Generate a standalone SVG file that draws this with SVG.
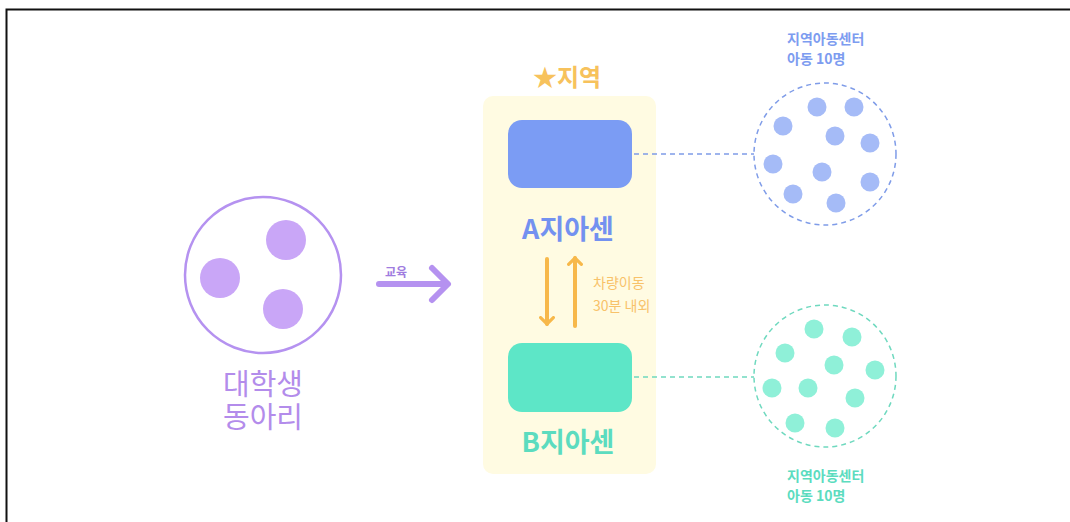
<svg xmlns="http://www.w3.org/2000/svg" width="1070" height="522" viewBox="0 0 1070 522">
<style>
.ko{font-family:"Noto Sans CJK KR","Noto Sans",sans-serif}
.b{font-weight:700}
.pdot{fill:#c9a6f7}
.bdot{fill:#a5bbf7}
.gdot{fill:#8ff0d8}
.dash{fill:none;stroke-width:1.5;stroke-dasharray:5 4}
</style>
<defs>
<marker id="ah" viewBox="0 0 10 10" refX="5" refY="5" markerWidth="4" markerHeight="4" orient="auto">
<path d="M1,1 L5,5 L1,9" fill="none" stroke="#f7b84a" stroke-width="2" stroke-linecap="round"/>
</marker>
</defs>
<rect width="1070" height="522" fill="#fff"/>
<path d="M6.5,522 V9.5 H1070" fill="none" stroke="#111" stroke-width="2"/>

<g id="club">
<circle cx="263" cy="275" r="78" fill="#fff" stroke="#b592f0" stroke-width="2.5"/>
<circle class="pdot" cx="286" cy="240" r="20"/>
<circle class="pdot" cx="220" cy="278" r="20"/>
<circle class="pdot" cx="283" cy="309" r="20"/>
<text class="ko" x="263" y="395" text-anchor="middle" font-size="29" fill="#b38ceb">대학생</text>
<text class="ko" x="263" y="428" text-anchor="middle" font-size="29" fill="#b38ceb">동아리</text>
</g>

<g id="region">
<rect x="483" y="96" width="173" height="378" rx="10" fill="#fffbe2"/>
<text class="ko b" x="567" y="86" text-anchor="middle" font-size="24" fill="#f7c25c">★지역</text>
</g>

<g id="centerA">
<rect x="508" y="120" width="124" height="68" rx="14" fill="#7b9cf4"/>
<text class="ko b" x="568" y="239" text-anchor="middle" font-size="27" fill="#7391f0">A지아센</text>
</g>

<g id="centerB">
<rect x="508" y="343" width="124" height="69" rx="14" fill="#5de6c7"/>
<text class="ko b" x="568" y="452" text-anchor="middle" font-size="27" fill="#5cdcbf">B지아센</text>
</g>

<g id="groupA">
<circle class="dash" cx="825" cy="154" r="71" stroke="#7f9ce8"/>
<circle class="bdot" cx="817" cy="107" r="9.5"/>
<circle class="bdot" cx="854" cy="107" r="9.5"/>
<circle class="bdot" cx="783" cy="126" r="9.5"/>
<circle class="bdot" cx="835" cy="136" r="9.5"/>
<circle class="bdot" cx="870" cy="143" r="9.5"/>
<circle class="bdot" cx="773" cy="164" r="9.5"/>
<circle class="bdot" cx="822" cy="172" r="9.5"/>
<circle class="bdot" cx="870" cy="182" r="9.5"/>
<circle class="bdot" cx="793" cy="194" r="9.5"/>
<circle class="bdot" cx="836" cy="203" r="9.5"/>
<text class="ko b" x="787" y="44" font-size="14" fill="#7d9cf0">지역아동센터</text>
<text class="ko b" x="787" y="64" font-size="14" fill="#7d9cf0">아동 10명</text>
</g>

<g id="groupB">
<circle class="dash" cx="825" cy="376" r="71" stroke="#6fd9bf"/>
<circle class="gdot" cx="814" cy="329" r="9.5"/>
<circle class="gdot" cx="852" cy="337" r="9.5"/>
<circle class="gdot" cx="785" cy="353" r="9.5"/>
<circle class="gdot" cx="834" cy="365" r="9.5"/>
<circle class="gdot" cx="875" cy="370" r="9.5"/>
<circle class="gdot" cx="772" cy="388" r="9.5"/>
<circle class="gdot" cx="808" cy="388" r="9.5"/>
<circle class="gdot" cx="855" cy="398" r="9.5"/>
<circle class="gdot" cx="795" cy="423" r="9.5"/>
<circle class="gdot" cx="835" cy="428" r="9.5"/>
<text class="ko b" x="787" y="481" font-size="14" fill="#5cdcbf">지역아동센터</text>
<text class="ko b" x="787" y="501" font-size="14" fill="#5cdcbf">아동 10명</text>
</g>

<g id="connectors">
<path d="M379,284 H446" stroke="#b592f0" stroke-width="6" stroke-linecap="round" fill="none"/>
<path d="M432,268 L448,284 L432,300" stroke="#b592f0" stroke-width="6" stroke-linecap="round" stroke-linejoin="round" fill="none"/>
<text class="ko b" x="385" y="277" font-size="12" fill="#a07ce0">교육</text>
<path d="M547,259 V324" stroke="#f7b84a" stroke-width="4" stroke-linecap="round" fill="none" marker-end="url(#ah)"/>
<path d="M575,326 V258" stroke="#f7b84a" stroke-width="4" stroke-linecap="round" fill="none" marker-end="url(#ah)"/>
<text class="ko" x="593" y="288" font-size="14" fill="#f8c26a">차량이동</text>
<text class="ko" x="593" y="311" font-size="14" fill="#f8c26a">30분 내외</text>
<path class="dash" d="M634,154 H754" stroke="#7f9ce8"/>
<path class="dash" d="M634,377 H754" stroke="#6fd9bf"/>
</g>
</svg>
